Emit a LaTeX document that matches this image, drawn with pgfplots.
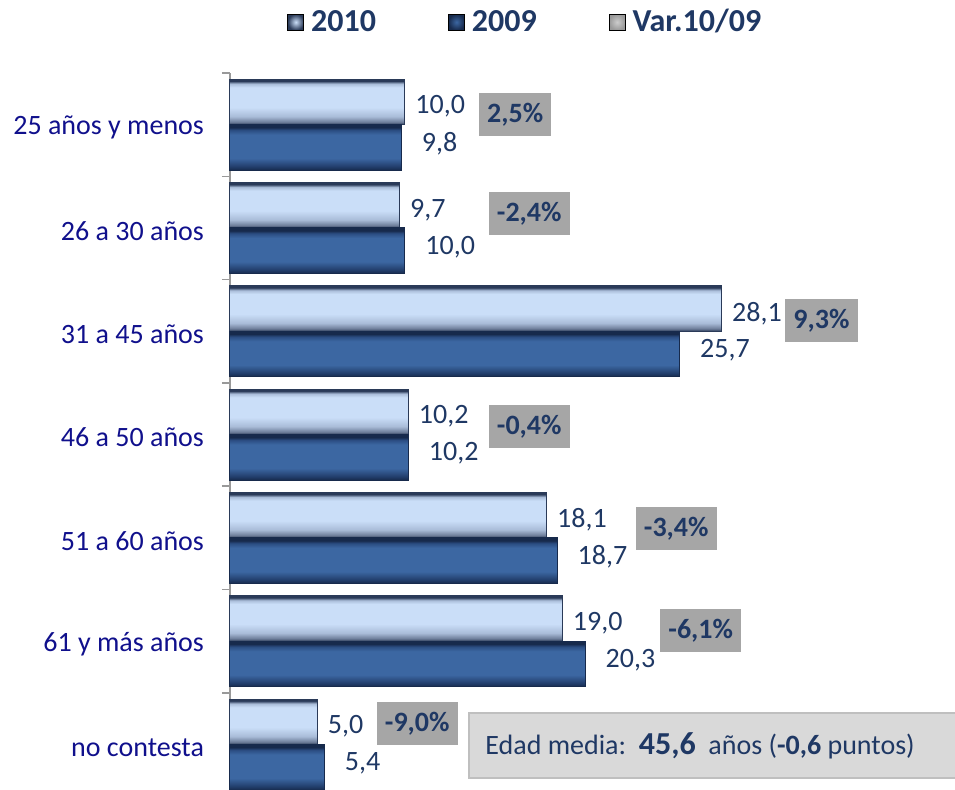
\documentclass[border=0pt]{standalone}
\usepackage{pgfplots}
\pgfplotsset{compat=1.18}
\usepackage{fontspec}
\setmainfont{Carlito}
\definecolor{catblue}{HTML}{10108C}
\definecolor{valblue}{HTML}{1F3864}
\definecolor{vargrey}{HTML}{A6A6A6}
\definecolor{boxgrey}{HTML}{D9D9D9}
\definecolor{boxborder}{HTML}{BFBFBF}
\definecolor{ltA}{HTML}{2A3A58}
\definecolor{ltB}{HTML}{CADEF8}
\definecolor{ltC}{HTML}{A9BCD8}
\definecolor{ltD}{HTML}{6E7E9A}
\definecolor{dkA}{HTML}{172A4C}
\definecolor{dkB}{HTML}{3C67A2}
\definecolor{dkC}{HTML}{2B4D82}
\definecolor{dkD}{HTML}{223E6C}
\pgfdeclareverticalshading{lightbar}{100bp}{color(0bp)=(ltA); color(25bp)=(ltA); color(28bp)=(ltD); color(34bp)=(ltC); color(44bp)=(ltB); color(66bp)=(ltB); color(70bp)=(ltC); color(73bp)=(ltA); color(75bp)=(ltA); color(100bp)=(ltA)}
\pgfdeclareverticalshading{darkbar}{100bp}{color(0bp)=(dkA); color(25bp)=(dkA); color(29bp)=(dkD); color(38bp)=(dkB); color(64bp)=(dkB); color(69bp)=(dkC); color(72bp)=(dkA); color(75bp)=(dkA); color(100bp)=(dkA)}
\pgfplotstableread{
y v
0 10.0
1 9.7
2 28.1
3 10.2
4 18.1
5 19.0
6 5.0
}\tabA
\pgfplotstableread{
y v
0 9.8
1 10.0
2 25.7
3 10.2
4 18.7
5 20.3
6 5.4
}\tabB
\pgfplotstableread{
x y lab
16.3 -0.10 2,5\%
17.1 0.86 -2,4\%
33.8 1.90 9,3\%
17.1 2.92 -0,4\%
25.5 3.91 -3,4\%
26.9 4.90 -6,1\%
10.7 5.80 -9,0\%
}\tabV
\pgfplotsset{
  bar10/.style={xbar, bar width=0.44, bar shift=-0.22, shading=lightbar, draw=ltA, line width=0.5pt,
    point meta=x, nodes near coords,
    nodes near coords style={anchor=west, inner sep=0pt, xshift=5pt, yshift=9pt, text=valblue, font=\fontsize{14}{16}\selectfont}},
  bar09/.style={xbar, bar width=0.44, bar shift=0.22, shading=darkbar, draw=dkA, line width=0.5pt,
    point meta=x, nodes near coords,
    nodes near coords style={anchor=west, inner sep=0pt, xshift=10pt, yshift=-9.5pt, text=valblue, font=\fontsize{14}{16}\selectfont}},
}
\begin{document}
\begin{tikzpicture}
\begin{axis}[
  at={(0,0)}, anchor=north west,
  scale only axis, width=350pt, height=358.5pt,
  xmin=0, xmax=40, ymin=-0.5, ymax=6.44, y dir=reverse,
  axis x line=none,
  axis y line*=left,
  y axis line style={draw=gray!80, line width=0.8pt},
  ytick={0,...,6},
  yticklabels={25 años y menos,26 a 30 años,31 a 45 años,46 a 50 años,51 a 60 años,61 y más años,no contesta},
  major tick length=0pt,
  minor ytick={-0.5,0.5,1.5,2.5,3.5,4.5,5.5},
  minor tick length=4pt,
  tick align=outside,
  minor tick style={draw=gray!80, line width=0.8pt},
  yticklabel style={font=\fontsize{14}{16}\selectfont, text=catblue, xshift=-9.5pt, yshift=-1.5pt},
  clip=false,
  /pgf/number format/.cd, fixed, fixed zerofill, precision=1, use comma, assume math mode=true,
  /pgfplots/.cd,
  legend columns=-1,
  legend style={at={(axis description cs:0.0814,1.071)}, anchor=west, draw=none, fill=none,
    font=\bfseries\fontsize{16}{18}\selectfont, text=valblue, inner sep=0pt,
    nodes={inner xsep=1pt},
    /tikz/every odd column/.append style={column sep=2.5pt},
    /tikz/every even column/.append style={column sep=35pt}},
]
\pgfplotsinvokeforeach{0,...,6}{
  \addplot[bar10, restrict y to domain=#1:#1, forget plot] table[x=v, y=y] {\tabA};
  \addplot[bar09, restrict y to domain=#1:#1, forget plot] table[x=v, y=y] {\tabB};
}
\addplot[only marks, mark=none, point meta=explicit symbolic, nodes near coords, forget plot,
  nodes near coords style={anchor=center, fill=vargrey, text=valblue, inner xsep=4pt, minimum height=21.5pt,
    font=\bfseries\fontsize{14}{16}\selectfont}]
  table[x=x, y=y, meta=lab] {\tabV};
\addlegendimage{legend image code/.code={\fill[inner color=ltB, outer color=ltA] (0pt,-4pt) rectangle (8pt,4pt);}}
\addlegendentry{2010}
\addlegendimage{legend image code/.code={\fill[inner color=dkB, outer color=dkA] (0pt,-4pt) rectangle (8pt,4pt);}}
\addlegendentry{2009}
\addlegendimage{legend image code/.code={\fill[inner color=gray!40, outer color=gray!80] (0pt,-4pt) rectangle (8pt,4pt);}}
\addlegendentry{Var.10/09}
\end{axis}
\draw[fill=boxgrey, draw=boxborder, line width=0.8pt] (119.5pt,-320pt) rectangle (365pt,-352.5pt);
\node[anchor=west, inner sep=0pt, text=valblue, font=\fontsize{14}{16}\selectfont] at (127.5pt,-336.5pt)
  {Edad media:\ \ {\bfseries\fontsize{16}{18}\selectfont 45,6}\ \ años ({\bfseries -0,6} puntos)};
\pgfresetboundingbox
\useasboundingbox (-115pt,-358.5pt) rectangle (362.5pt,36.5pt);
\end{tikzpicture}
\end{document}
